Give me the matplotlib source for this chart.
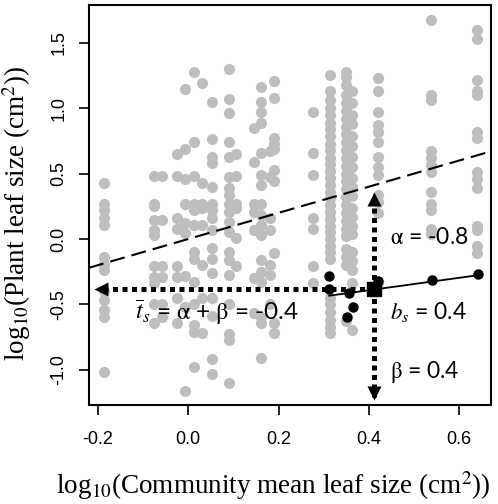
import numpy as np
import matplotlib
matplotlib.use("Agg")
import matplotlib.pyplot as plt
from matplotlib.transforms import offset_copy

# community mean leaf size (log10) for each community column
community_x = [-0.186, -0.076, -0.058, -0.025, -0.008, 0.013, 0.031, 0.052, 0.090,
               0.105, 0.146, 0.160, 0.180, 0.190, 0.277, 0.314, 0.350, 0.362,
               0.421, 0.538, 0.640]

# plant leaf sizes (log10) in each community column
plant_y = [
    [0.43, 0.27, 0.22, 0.16, 0.11, -0.14, -0.19, -0.24, -0.40, -0.47, -0.54, -0.60, -1.02],
    [0.48, 0.27, 0.25, 0.145, 0.07, 0.03, -0.21, -0.29, -0.34, -0.50, -0.64],
    [0.48, 0.145, -0.21, -0.29, -0.50, -0.60],
    [0.65, 0.48, 0.16, 0.08, -0.21, -0.29, -0.45, -0.64],
    [1.15, 0.69, 0.46, 0.27, 0.12, 0.045, -0.28, -0.52, -1.16],
    [1.28, 0.745, 0.48, 0.27, 0.22, 0.11, -0.10, -0.15, -0.33, -0.50, -0.66, -0.71, -0.98],
    [1.19, 0.43, 0.27, 0.235, 0.11, -0.20, -0.45, -0.72],
    [1.05, 0.765, 0.63, 0.58, 0.40, 0.27, 0.22, 0.16, 0.07, -0.07, -0.15, -0.26,
     -0.45, -0.59, -0.92, -1.03],
    [1.30, 1.07, 0.96, 0.745, 0.63, 0.475, 0.39, 0.34, 0.27, 0.21, 0.13, 0.055,
     -0.10, -0.16, -0.275, -0.50, -0.73, -0.77, -1.10],
    [0.65, 0.48, 0.27, 0.235, 0.005, -0.21],
    [0.85, 0.59, 0.27, 0.21, 0.07, -0.30, -0.57],
    [1.165, 1.045, 0.97, 0.885, 0.655, 0.49, 0.41, 0.27, 0.185, 0.11, 0.03, -0.16,
     -0.25, -0.33, -0.60, -0.64, -0.91],
    [0.67, 0.475, 0.16, 0.07, -0.20, -0.275, -0.50],
    [1.21, 1.08, 0.775, 0.73, 0.69, 0.53, 0.44, -0.11, -0.64, -0.72],
    [0.974, 0.656, 0.49, 0.16, 0.08, -0.21, -0.34],
    [1.255, 1.13, 1.06, 1.00, 0.95, 0.89, 0.84, 0.79, 0.73, 0.68, 0.62, 0.57, 0.52,
     0.47, 0.41, 0.36, 0.31, 0.26, 0.21, 0.15, 0.10, 0.05, 0.00, -0.05, -0.10,
     -0.15, -0.45, -0.50, -0.56, -0.62, -0.67, -0.72],
    [1.28, 1.24, 1.18, 1.10, 1.04, 0.98, 0.92, 0.86, 0.80, 0.74, 0.68, 0.62, 0.56,
     0.50, 0.44, 0.38, 0.32, 0.26, 0.20, 0.14, 0.08, 0.02, -0.08, -0.14, -0.20, -0.63],
    [1.13, 1.04, 0.95, 0.88, 0.79, 0.71, 0.63, 0.55, 0.47, 0.40, 0.33, 0.24, 0.17,
     0.10, 0.04, -0.10, -0.17, -0.24, -0.34, -0.70],
    [1.235, 1.13, 0.97, 0.87, 0.82, 0.745, 0.63, 0.55, 0.49, 0.34, 0.28, 0.20, -0.34],
    [1.675, 1.10, 1.065, 0.67, 0.62, 0.565, 0.515, 0.36, 0.27, 0.22, 0.08, 0.04],
    [1.60, 1.53, 1.22, 1.13, 1.10, 0.82, 0.77, 0.515, 0.46, 0.39, 0.10, 0.07, -0.05, -0.11],
]

# one highlighted site
site_x = [0.312, 0.312, 0.357, 0.366, 0.351, 0.421, 0.539, 0.641]
site_y = [-0.28, -0.385, -0.41, -0.52, -0.595, -0.32, -0.31, -0.27]

arrow_left_tip = -0.21
arrow_up_tip = 0.36
arrow_down_tip = -1.23

xticks = [-0.2, 0.0, 0.2, 0.4, 0.6]
yticks = [-1.0, -0.5, 0.0, 0.5, 1.0, 1.5]

plt.rcParams["mathtext.fontset"] = "stix"
plt.rcParams["axes.unicode_minus"] = False

grey = "#bebebe"
ann_font = ["Lato", "Noto Sans", "DejaVu Sans"]

fig = plt.figure(figsize=(4.98, 5.04), dpi=100)
ax = fig.add_axes([89 / 498, 99 / 504, 401.7 / 498, 400 / 504])

px = np.concatenate([[x] * len(ys) for x, ys in zip(community_x, plant_y)])
py = np.concatenate(plant_y)
ax.plot(px, py, "o", color=grey, ms=8, mec="none", zorder=1)

# 1:1 line
ax.axline((0, 0), slope=1, color="black", lw=1.5, dashes=(7.2, 3.4), zorder=2)

# site points and fitted line
slope, intercept = np.polyfit(site_x, site_y, 1)
lx = np.array([min(site_x), max(site_x)])
ax.plot(lx, intercept + slope * lx, color="black", lw=1.3, zorder=3)
ax.plot(site_x, site_y, "o", color="black", ms=6.5, zorder=4)

mx, my = np.mean(site_x), np.mean(site_y)


def dotted_arrow(tip, marker, dx, dy):
    # stop the dotted shaft a bit before the tip so the head covers it
    start = ax.transData.transform((mx, my))
    end = ax.transData.transform(tip)
    d = end - start
    d = d / np.hypot(*d)
    stop = ax.transData.inverted().transform(end - d * 9)
    ax.plot([mx, stop[0]], [my, stop[1]], color="black", lw=3.6,
            dashes=(1, 0.9), solid_capstyle="butt", dash_capstyle="butt", zorder=5)
    tr = offset_copy(ax.transData, fig=fig, x=dx, y=dy, units="points")
    ax.plot([tip[0]], [tip[1]], marker=marker, color="black", ms=10.5,
            mec="none", transform=tr, zorder=6)


dotted_arrow((arrow_left_tip, my), "<", 5.2, 0)
dotted_arrow((mx, arrow_up_tip), "^", 0, -5.2)
dotted_arrow((mx, arrow_down_tip), "v", 0, 5.2)

ax.plot([mx], [my], "s", color="black", ms=10, zorder=7)

ax.text(0.447, 0.01, r"$\mathrm{\alpha}$ = -0.8", family=ann_font, fontsize=16.5,
        va="center", zorder=8)
ax.text(0.447, -0.56, r"$b_s$ = 0.4", family=ann_font, fontsize=16.5,
        va="center", zorder=8)
ax.text(0.447, -1.015, r"$\mathrm{\beta}$ = 0.4", family=ann_font, fontsize=16.5,
        va="center", zorder=8)
ax.text(-0.118, -0.56, r"$\overline{t}_s$ = $\mathrm{\alpha}$ + $\mathrm{\beta}$ = -0.4",
        family=ann_font, fontsize=17.5, va="center", zorder=8)

ax.set_xlim(-0.22, 0.67)
ax.set_ylim(-1.27, 1.79)
ax.set_xticks(xticks)
ax.set_xticklabels([f"{v:.1f}" for v in xticks])
ax.set_yticks(yticks)
ax.set_yticklabels([f"{v:.1f}" for v in yticks], rotation=90, va="center")
ax.tick_params(direction="out", length=7.5, width=1.2, labelsize=13)
ax.tick_params(axis="x", pad=11)
ax.tick_params(axis="y", pad=8)
for lab in ax.get_xticklabels() + ax.get_yticklabels():
    lab.set_family("Liberation Sans")
for s in ax.spines.values():
    s.set_linewidth(1.5)

ax.set_xlabel(r"log$_{10}$(Community mean leaf size (cm$^2$))",
              family="Liberation Serif", fontsize=19.5)
ax.set_ylabel(r"log$_{10}$(Plant leaf size (cm$^2$))",
              family="Liberation Serif", fontsize=19.5)
ax.xaxis.set_label_coords(0.459, -0.16)
ax.yaxis.set_label_coords(-0.139, 0.479)

fig.savefig("out.png", dpi=100)
